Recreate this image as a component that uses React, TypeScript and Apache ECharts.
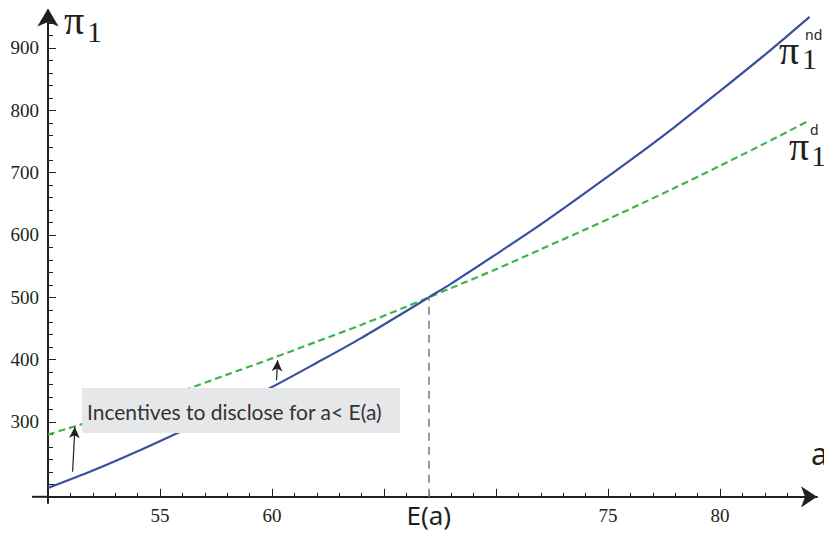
import React, { useEffect, useRef } from "react";
import * as echarts from "echarts";

// Quality a (x axis) and profits (y axis)
const aValues = [50, 52, 54, 56, 58, 60, 62, 64, 66, 67, 68, 70, 72, 74, 76, 78, 80, 82, 84];
const profitNoDisclosure = [194, 222, 253, 286, 320, 356, 395, 435, 478, 500, 522, 569, 617, 668, 720, 774, 831, 889, 950];
const profitDisclosure = [280, 302, 326, 350, 376, 402, 429, 456, 485, 500, 515, 545, 577, 609, 642, 676, 711, 747, 784];

const expectedA = 67;
const crossingProfit = 500;

const xMinorTicks = [51, 52, 53, 54, 55, 56, 57, 58, 59, 60, 61, 62, 63, 64, 65, 66, 67, 68, 69, 70, 71, 72, 73, 74, 75, 76, 77, 78, 79, 80, 81, 82, 83, 84];
const xMajorTicks = [55, 60, 65, 70, 75, 80];
const xTickLabels = [55, 60, 67, 75, 80];
const yMinorTicks = [180, 200, 220, 240, 260, 280, 300, 320, 340, 360, 380, 400, 420, 440, 460, 480, 500, 520, 540, 560, 580, 600, 620, 640, 660, 680, 700, 720, 740, 760, 780, 800, 820, 840, 860, 880, 900, 920, 940];
const yMajorTicks = [200, 300, 400, 500, 600, 700, 800, 900];
const yTickLabels = [300, 400, 500, 600, 700, 800, 900];

// incentive arrows: [a, from profit, to profit]
const arrowA1 = [51.1, 51.2];
const arrowP1 = [220, 292];
const arrowA2 = [60.2, 60.25];
const arrowP2 = [367, 399];

const annotation = "Incentives to disclose for a< E(a)";

const X_MIN = 50;
const X_MAX = 84.33;
const Y_MIN = 170;
const Y_MAX = 960;

const INK = "#231f20";
const SERIF = "'Liberation Serif', 'DejaVu Serif', serif";
const SANS = "'Noto Sans', 'Liberation Sans', sans-serif";

export default function App() {
  const ref = useRef<HTMLDivElement>(null);

  useEffect(() => {
    if (!ref.current) return;
    const chart = echarts.init(ref.current, null, { renderer: "svg" });

    const commonX = {
      type: "value",
      min: X_MIN,
      max: X_MAX,
      position: "bottom",
      offset: -6.2,
      splitLine: { show: false },
    };
    const commonY = {
      type: "value",
      min: Y_MIN,
      max: Y_MAX,
      position: "left",
      splitLine: { show: false },
    };

    const txt = (x: number, y: number, text: string, font: string) => ({
      type: "text",
      x,
      y,
      style: { text, font, fill: INK, verticalAlign: "top", align: "left" },
      z: 10,
    });

    const option: any = {
      animation: false,
      backgroundColor: "#ffffff",
      grid: { left: 48, right: 7, top: 10.6, bottom: 32, containLabel: false },
      xAxis: [
        {
          ...commonX,
          axisLine: {
            show: true,
            symbol: ["none", "arrow"],
            symbolSize: [16, 16],
            lineStyle: { color: INK, width: 2 },
          },
          axisTick: {
            show: true,
            inside: true,
            length: 4,
            customValues: xMinorTicks,
            lineStyle: { color: INK, width: 1 },
          },
          axisLabel: {
            show: true,
            customValues: xTickLabels,
            margin: 9,
            formatter: (v: number) => (v === expectedA ? "{e|E(a)}" : "{n|" + v + "}"),
            rich: {
              n: { fontFamily: SERIF, fontSize: 19, color: INK },
              e: { fontFamily: SANS, fontSize: 26, color: INK, padding: [-4, 0, 0, 0] },
            },
          },
        },
        {
          ...commonX,
          axisLine: { show: false },
          axisTick: {
            show: true,
            inside: true,
            length: 8,
            customValues: xMajorTicks,
            lineStyle: { color: INK, width: 1 },
          },
          axisLabel: { show: false },
        },
      ],
      yAxis: [
        {
          ...commonY,
          axisLine: {
            show: true,
            symbol: ["none", "arrow"],
            symbolSize: [16, 18],
            symbolOffset: [0, 2],
            lineStyle: { color: INK, width: 2 },
          },
          axisTick: {
            show: true,
            inside: true,
            length: 5,
            customValues: yMinorTicks,
            lineStyle: { color: INK, width: 1 },
          },
          axisLabel: {
            show: true,
            customValues: yTickLabels,
            margin: 9,
            fontFamily: SERIF,
            fontSize: 19,
            color: INK,
          },
        },
        {
          ...commonY,
          axisLine: { show: false },
          axisTick: {
            show: true,
            inside: true,
            length: 8,
            customValues: yMajorTicks,
            lineStyle: { color: INK, width: 1 },
          },
          axisLabel: { show: false },
        },
      ],
      series: [
        {
          name: "disclosure",
          type: "line",
          xAxisIndex: 0,
          yAxisIndex: 0,
          data: aValues.map((a, i) => [a, profitDisclosure[i]]),
          showSymbol: false,
          smooth: 0.3,
          lineStyle: { color: "#3db54a", width: 2.2, type: [7, 4] },
          silent: true,
          z: 3,
        },
        {
          name: "no disclosure",
          type: "line",
          xAxisIndex: 0,
          yAxisIndex: 0,
          data: aValues.map((a, i) => [a, profitNoDisclosure[i]]),
          showSymbol: false,
          smooth: 0.3,
          lineStyle: { color: "#3a4fa0", width: 2.2 },
          silent: true,
          z: 4,
          markLine: {
            silent: true,
            animation: false,
            label: { show: false },
            data: [
              [
                { coord: [expectedA, 180], symbol: "none", lineStyle: { color: "#808080", width: 1.6, type: [8, 6] } },
                { coord: [expectedA, crossingProfit], symbol: "none" },
              ],
              [
                { coord: [arrowA1[0], arrowP1[0]], symbol: "none", lineStyle: { color: INK, width: 1.2, type: "solid" } },
                { coord: [arrowA1[1], arrowP1[1]], symbol: "arrow", symbolSize: [8, 11] },
              ],
              [
                { coord: [arrowA2[0], arrowP2[0]], symbol: "none", lineStyle: { color: INK, width: 1.2, type: "solid" } },
                { coord: [arrowA2[1], arrowP2[1]], symbol: "arrow", symbolSize: [8, 11] },
              ],
            ],
          },
        },
      ],
      graphic: [
        { type: "line", shape: { x1: 32, y1: 496.8, x2: 48, y2: 496.8 }, style: { stroke: INK, lineWidth: 2 }, z: 10 },
        { type: "rect", shape: { x: 82, y: 388, width: 318, height: 45 }, style: { fill: "#e6e7e8" }, z: 100 },
        {
          type: "text",
          x: 87,
          y: 411,
          style: { text: annotation, font: `21px Lato, ${SANS}`, fill: "#333333", verticalAlign: "middle", align: "left" },
          z: 101,
        },
        // top-left axis title pi_1
        txt(64, 0, "π", `40px ${SERIF}`),
        txt(87, 16, "1", `30px ${SERIF}`),
        // pi_1^nd
        txt(779, 30, "π", `40px ${SERIF}`),
        txt(802, 43, "1", `30px ${SERIF}`),
        txt(805, 27, "nd", `14px ${SANS}`),
        // pi_1^d
        txt(789, 126, "π", `40px ${SERIF}`),
        txt(811, 140, "1", `30px ${SERIF}`),
        txt(810, 122, "d", `14px ${SANS}`),
        // x-axis name
        txt(811, 438, "a", `30px ${SANS}`),
      ],
    };

    chart.setOption(option);
    return () => chart.dispose();
  }, []);

  return (
    <div
      ref={ref}
      style={{ position: "fixed", left: 0, top: 0, width: 824, height: 535, background: "#fff" }}
    />
  );
}
